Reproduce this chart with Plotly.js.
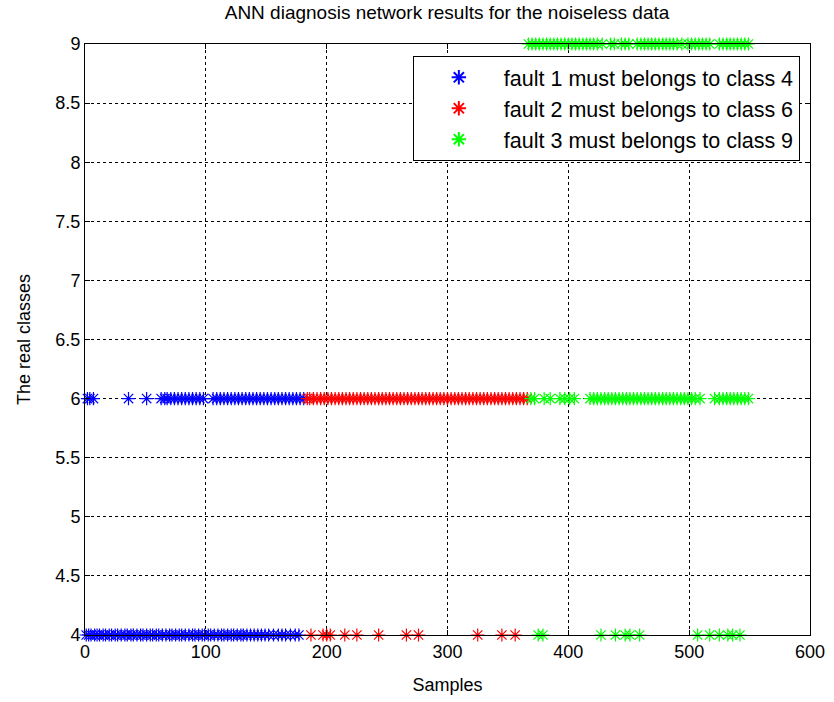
<!DOCTYPE html>
<html>
<head>
<meta charset="utf-8">
<script src="https://cdn.plot.ly/plotly-3.0.1.min.js"></script>
<style>html,body{margin:0;padding:0;background:#fff;}#chart{width:834px;height:702px;}</style>
</head>
<body>
<div id="chart"></div>
<script>
// Sample indices (x) where each fault was classified into a given class (y)
const fault1At4 = [1,3,5,8,10,12,15,17,20,22,25,27,30,33,35,38,40,43,46,48,51,54,56,59,61,64,67,70,72,75,78,80,83,86,89,91,94,97,99,102,104,107,110,113,115,118,121,123,126,129,131,134,137,140,143,146,149,152,156,160,163,166,170,174,177];
const fault1At6 = [2,4,7,36,51,63,66,68,71,74,77,80,83,86,89,92,95,98,106,109,112,115,118,121,124,127,130,133,136,139,142,145,148,151,154,157,160,163,166,169,172,175,178,181];
const fault2At6 = [184,186,189,192,195,198,201,204,207,210,213,216,219,222,225,228,231,234,237,240,243,246,249,252,255,258,261,264,267,270,273,276,279,282,285,288,291,294,297,300,303,306,309,312,315,318,321,324,327,330,333,336,339,342,345,348,351,354,357,360,363,366];
const fault2At4 = [187,197,200,203,215,225,243,266,276,325,345,356];
const fault3At9 = [367,370,373,376,379,382,385,388,391,394,397,400,403,406,409,412,415,418,421,424,428,435,438,444,447,450,457,460,463,466,469,472,475,478,481,484,487,490,494,499,502,505,508,511,514,517,525,528,531,534,537,540,543,546,549];
const fault3At6 = [369,372,380,385,393,397,401,405,418,421,424,427,430,433,436,439,442,445,448,451,454,457,460,463,466,469,472,475,478,481,484,487,490,493,496,499,502,505,509,521,525,528,531,534,537,540,543,546,549];
const fault3At4 = [375,379,427,439,447,451,459,507,517,525,532,536,542];

const seriesNames = ['fault 1 must belongs to class 4','fault 2 must belongs to class 6','fault 3 must belongs to class 9'];
const seriesColors = ['#0000ff','#ff0000','#00ff00'];
const xTicks = [0,100,200,300,400,500,600];
const yTicks = [4,4.5,5,5.5,6,6.5,7,7.5,8,8.5,9];

function build(groups){
  const x=[], y=[];
  groups.forEach(([arr, cls]) => arr.forEach(v => { x.push(v); y.push(cls); }));
  return {x, y};
}
const sets = [
  build([[fault1At4,4],[fault1At6,6]]),
  build([[fault2At6,6],[fault2At4,4]]),
  build([[fault3At9,9],[fault3At6,6],[fault3At4,4]])
];
const traces = sets.map((s,i) => ({
  type:'scatter', mode:'markers', x:s.x, y:s.y, name:seriesNames[i],
  cliponaxis:false,
  marker:{symbol:'asterisk-open', size:11, color:seriesColors[i], line:{color:seriesColors[i], width:1.2}}
}));

const font = {family:'Liberation Sans, Arial, sans-serif', size:18, color:'#000'};
const legendFont = {family:'Liberation Sans, Arial, sans-serif', size:21.5, color:'#000'};
const axisCommon = {
  showline:true, linecolor:'#000', linewidth:1, mirror:'ticks',
  ticks:'inside', ticklen:5, tickcolor:'#000',
  showgrid:true, gridcolor:'#000', griddash:'dot', gridwidth:1,
  zeroline:false, tickfont:font
};
const layout = {
  width:834, height:702,
  margin:{l:85, r:24, t:44, b:67},
  paper_bgcolor:'#fff', plot_bgcolor:'#fff',
  font:font,
  title:{text:'ANN diagnosis network results for the noiseless data', font:{family:font.family, size:19, color:'#000'}, x:0.536, xanchor:'center', y:0.992, yanchor:'top'},
  xaxis:Object.assign({}, axisCommon, {range:[0,600], tickvals:xTicks, title:{text:'Samples', font:font, standoff:17}}),
  yaxis:Object.assign({}, axisCommon, {range:[4,9], tickvals:yTicks, title:{text:'The real classes', font:font, standoff:20}}),
  showlegend:true,
  legend:{x:0.986, xanchor:'right', y:0.98, yanchor:'top', bgcolor:'#fff', bordercolor:'#000', borderwidth:1, font:legendFont, tracegroupgap:0, itemwidth:80, itemsizing:'constant'}
};
Plotly.newPlot('chart', traces, layout, {displayModeBar:false, staticPlot:true});
</script>
</body>
</html>
